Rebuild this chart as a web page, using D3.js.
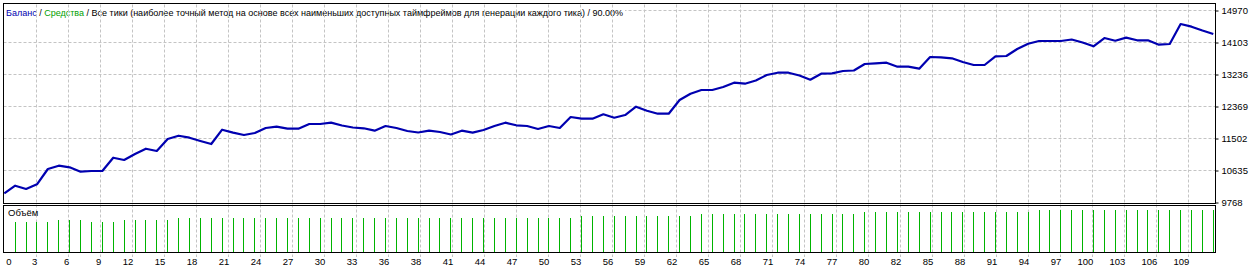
<!DOCTYPE html>
<html>
<head>
<meta charset="utf-8">
<script src="https://cdn.jsdelivr.net/npm/d3@7"></script>
<style>
  html, body { margin: 0; padding: 0; background: #fff; }
  svg { display: block; font-family: "Liberation Sans", Arial, sans-serif; }
</style>
</head>
<body>
<div id="chart"></div>
<script>
// balance after each trade (index 0 = initial deposit)
var balance = [
  10000, 10210, 10120, 10248, 10662, 10752, 10708, 10589, 10608, 10608,
  10968, 10906, 11069, 11212, 11150, 11475, 11564, 11510, 11421, 11339,
  11727, 11646, 11583, 11637, 11773, 11808, 11754, 11754, 11881, 11881,
  11917, 11841, 11786, 11765, 11700, 11827, 11773, 11692, 11651, 11700,
  11664, 11597, 11700, 11646, 11719, 11827, 11917, 11846, 11827, 11746,
  11827, 11773, 12071, 12025, 12025, 12144, 12052, 12125, 12350, 12242,
  12160, 12160, 12532, 12702, 12803, 12803, 12884, 13000, 12973, 13060,
  13209, 13271, 13271, 13195, 13082, 13244, 13255, 13317, 13331, 13507,
  13526, 13542, 13434, 13434, 13380, 13697, 13689, 13661, 13561, 13480,
  13480, 13716, 13724, 13913, 14057, 14130, 14130, 14130, 14171, 14089,
  13987, 14211, 14138, 14220, 14149, 14149, 14030, 14049, 14591, 14518,
  14415, 14320
];

// lot size of trades 1..111
var volume = [
  0.15, 0.15, 0.15, 0.15, 0.16, 0.16, 0.16, 0.15, 0.15, 0.15,
  0.16, 0.16, 0.16, 0.16, 0.16, 0.17, 0.17, 0.17, 0.17, 0.17,
  0.17, 0.17, 0.17, 0.17, 0.17, 0.17, 0.17, 0.17, 0.17, 0.17,
  0.17, 0.17, 0.17, 0.17, 0.17, 0.17, 0.17, 0.17, 0.17, 0.17,
  0.17, 0.17, 0.17, 0.17, 0.17, 0.17, 0.17, 0.17, 0.17, 0.17,
  0.17, 0.17, 0.18, 0.18, 0.18, 0.18, 0.18, 0.18, 0.18, 0.18,
  0.18, 0.18, 0.18, 0.19, 0.19, 0.19, 0.19, 0.19, 0.19, 0.19,
  0.19, 0.19, 0.19, 0.19, 0.19, 0.19, 0.19, 0.19, 0.20, 0.20,
  0.20, 0.20, 0.20, 0.20, 0.20, 0.20, 0.20, 0.20, 0.20, 0.20,
  0.20, 0.20, 0.20, 0.20, 0.21, 0.21, 0.21, 0.21, 0.21, 0.21,
  0.21, 0.21, 0.21, 0.21, 0.21, 0.21, 0.21, 0.21, 0.21, 0.21,
  0.21
];

var yTicks = [9768, 10635, 11502, 12369, 13236, 14103, 14970];

var xTickLabels = [
  "0", "3", "6", "9", "12", "15", "18", "21", "24", "27",
  "30", "33", "36", "38", "41", "44", "47", "50", "53", "56",
  "59", "62", "65", "68", "71", "74", "77", "80", "82", "85",
  "88", "91", "94", "97", "100", "103", "106", "109"
];

var titleText = ["Баланс", " / ", "Средства",
  " / Все тики (наиболее точный метод на основе всех наименьших доступных таймфреймов для генерации каждого тика) / 90.00%"];
var volumeTitle = "Объём";

function draw_tester(lugar)
{
  "use strict";

  var width = 1260,
    height = 270,
    left = 3.5,
    right = 1215.5,
    mainTop = 3.5,
    mainBottom = 203.5,
    volTop = 205.5,
    volBottom = 252.5;

  var gridColor = "#c4c4c4",
    lineColor = "#0000b0",
    volColor = "#00b400";

  var svg = d3.select(lugar)
    .append("svg")
      .attr("width", width)
      .attr("height", height);

  var x = d3.scaleLinear().domain([0, balance.length - 1]).range([4.3, 1213.3]);
  var y = d3.scaleLinear().domain([yTicks[0], yTicks[yTicks.length - 1]]).range([202, 10]);
  var yVol = d3.scaleLinear().domain([0, 0.24]).range([252, 204]);
  var xGrid = d3.scalePoint().domain(xTickLabels).range([4.3, 1188.3]);

  // horizontal grid (main panel only)
  svg.append("g")
    .selectAll("line")
    .data(yTicks.slice(1))
    .join("line")
      .attr("x1", left)
      .attr("x2", right)
      .attr("y1", function(d){ return Math.round(y(d)) + 0.5; })
      .attr("y2", function(d){ return Math.round(y(d)) + 0.5; })
      .attr("stroke", gridColor)
      .attr("stroke-dasharray", "3,2");

  // title with white background
  var titulo = svg.append("g");
  var bg = titulo.append("rect")
    .attr("x", 4).attr("y", 5).attr("height", 13)
    .attr("fill", "#fff");
  var t = titulo.append("text")
    .attr("x", 6)
    .attr("y", 16)
    .style("font-size", "9.5px");
  var colores = [lineColor, "#000", "#00a000", "#000"];
  titleText.forEach(function(s, i){
    t.append("tspan").attr("fill", colores[i]).text(s);
  });
  var len = t.node().getComputedTextLength();
  t.style("font-size", (9.5 * 618 / len) + "px");
  bg.attr("width", t.node().getComputedTextLength() + 4);

  // vertical grid through both panels
  svg.append("g")
    .selectAll("line")
    .data(xTickLabels.slice(1))
    .join("line")
      .attr("x1", function(d){ return Math.round(xGrid(d)) + 0.5; })
      .attr("x2", function(d){ return Math.round(xGrid(d)) + 0.5; })
      .attr("y1", mainTop + 1)
      .attr("y2", 257)
      .attr("stroke", gridColor)
      .attr("stroke-dasharray", "3,2");

  // volume bars
  svg.append("g")
    .selectAll("line")
    .data(volume)
    .join("line")
      .attr("x1", function(d, i){ return Math.floor(x(i + 1)) + 0.5; })
      .attr("x2", function(d, i){ return Math.floor(x(i + 1)) + 0.5; })
      .attr("y1", yVol(0))
      .attr("y2", function(d){ return yVol(d); })
      .attr("stroke", volColor)
      .attr("stroke-width", 1);

  // balance line
  svg.append("path")
    .datum(balance)
    .attr("fill", "none")
    .attr("stroke", lineColor)
    .attr("stroke-width", 2.2)
    .attr("stroke-linejoin", "round")
    .attr("d", d3.line()
      .x(function(d, i){ return x(i); })
      .y(function(d){ return y(d); }));

  // frames
  svg.append("rect")
    .attr("x", left).attr("y", mainTop)
    .attr("width", right - left).attr("height", mainBottom - mainTop)
    .attr("fill", "none").attr("stroke", "#000");
  svg.append("rect")
    .attr("x", left).attr("y", volTop)
    .attr("width", right - left).attr("height", volBottom - volTop)
    .attr("fill", "none").attr("stroke", "#000");

  svg.append("text")
    .attr("x", 8)
    .attr("y", 216)
    .style("font-size", "9.5px")
    .attr("fill", "#000")
    .text(volumeTitle);

  // right axis
  var yAxis = svg.append("g")
    .attr("transform", "translate(" + right + ",0.5)")
    .call(d3.axisRight(y).tickValues(yTicks).tickSize(3).tickPadding(3).tickFormat(d3.format("d")));
  yAxis.select(".domain").remove();
  yAxis.selectAll("text").style("font-size", "9.5px").attr("fill", "#000").attr("dy", "0.28em");
  yAxis.selectAll("line").attr("stroke", "#000");

  // bottom axis
  var xAxis = svg.append("g")
    .attr("transform", "translate(0.5," + volBottom + ")")
    .call(d3.axisBottom(xGrid).tickSize(0).tickPadding(6));
  xAxis.select(".domain").remove();
  xAxis.selectAll("text")
    .style("font-size", "9.5px")
    .attr("fill", "#000")
    .attr("text-anchor", function(d, i){ return i === 0 ? "start" : "end"; })
    .attr("dx", function(d, i){ return i === 0 ? "1" : "0"; });
}

draw_tester("#chart");
</script>
</body>
</html>
